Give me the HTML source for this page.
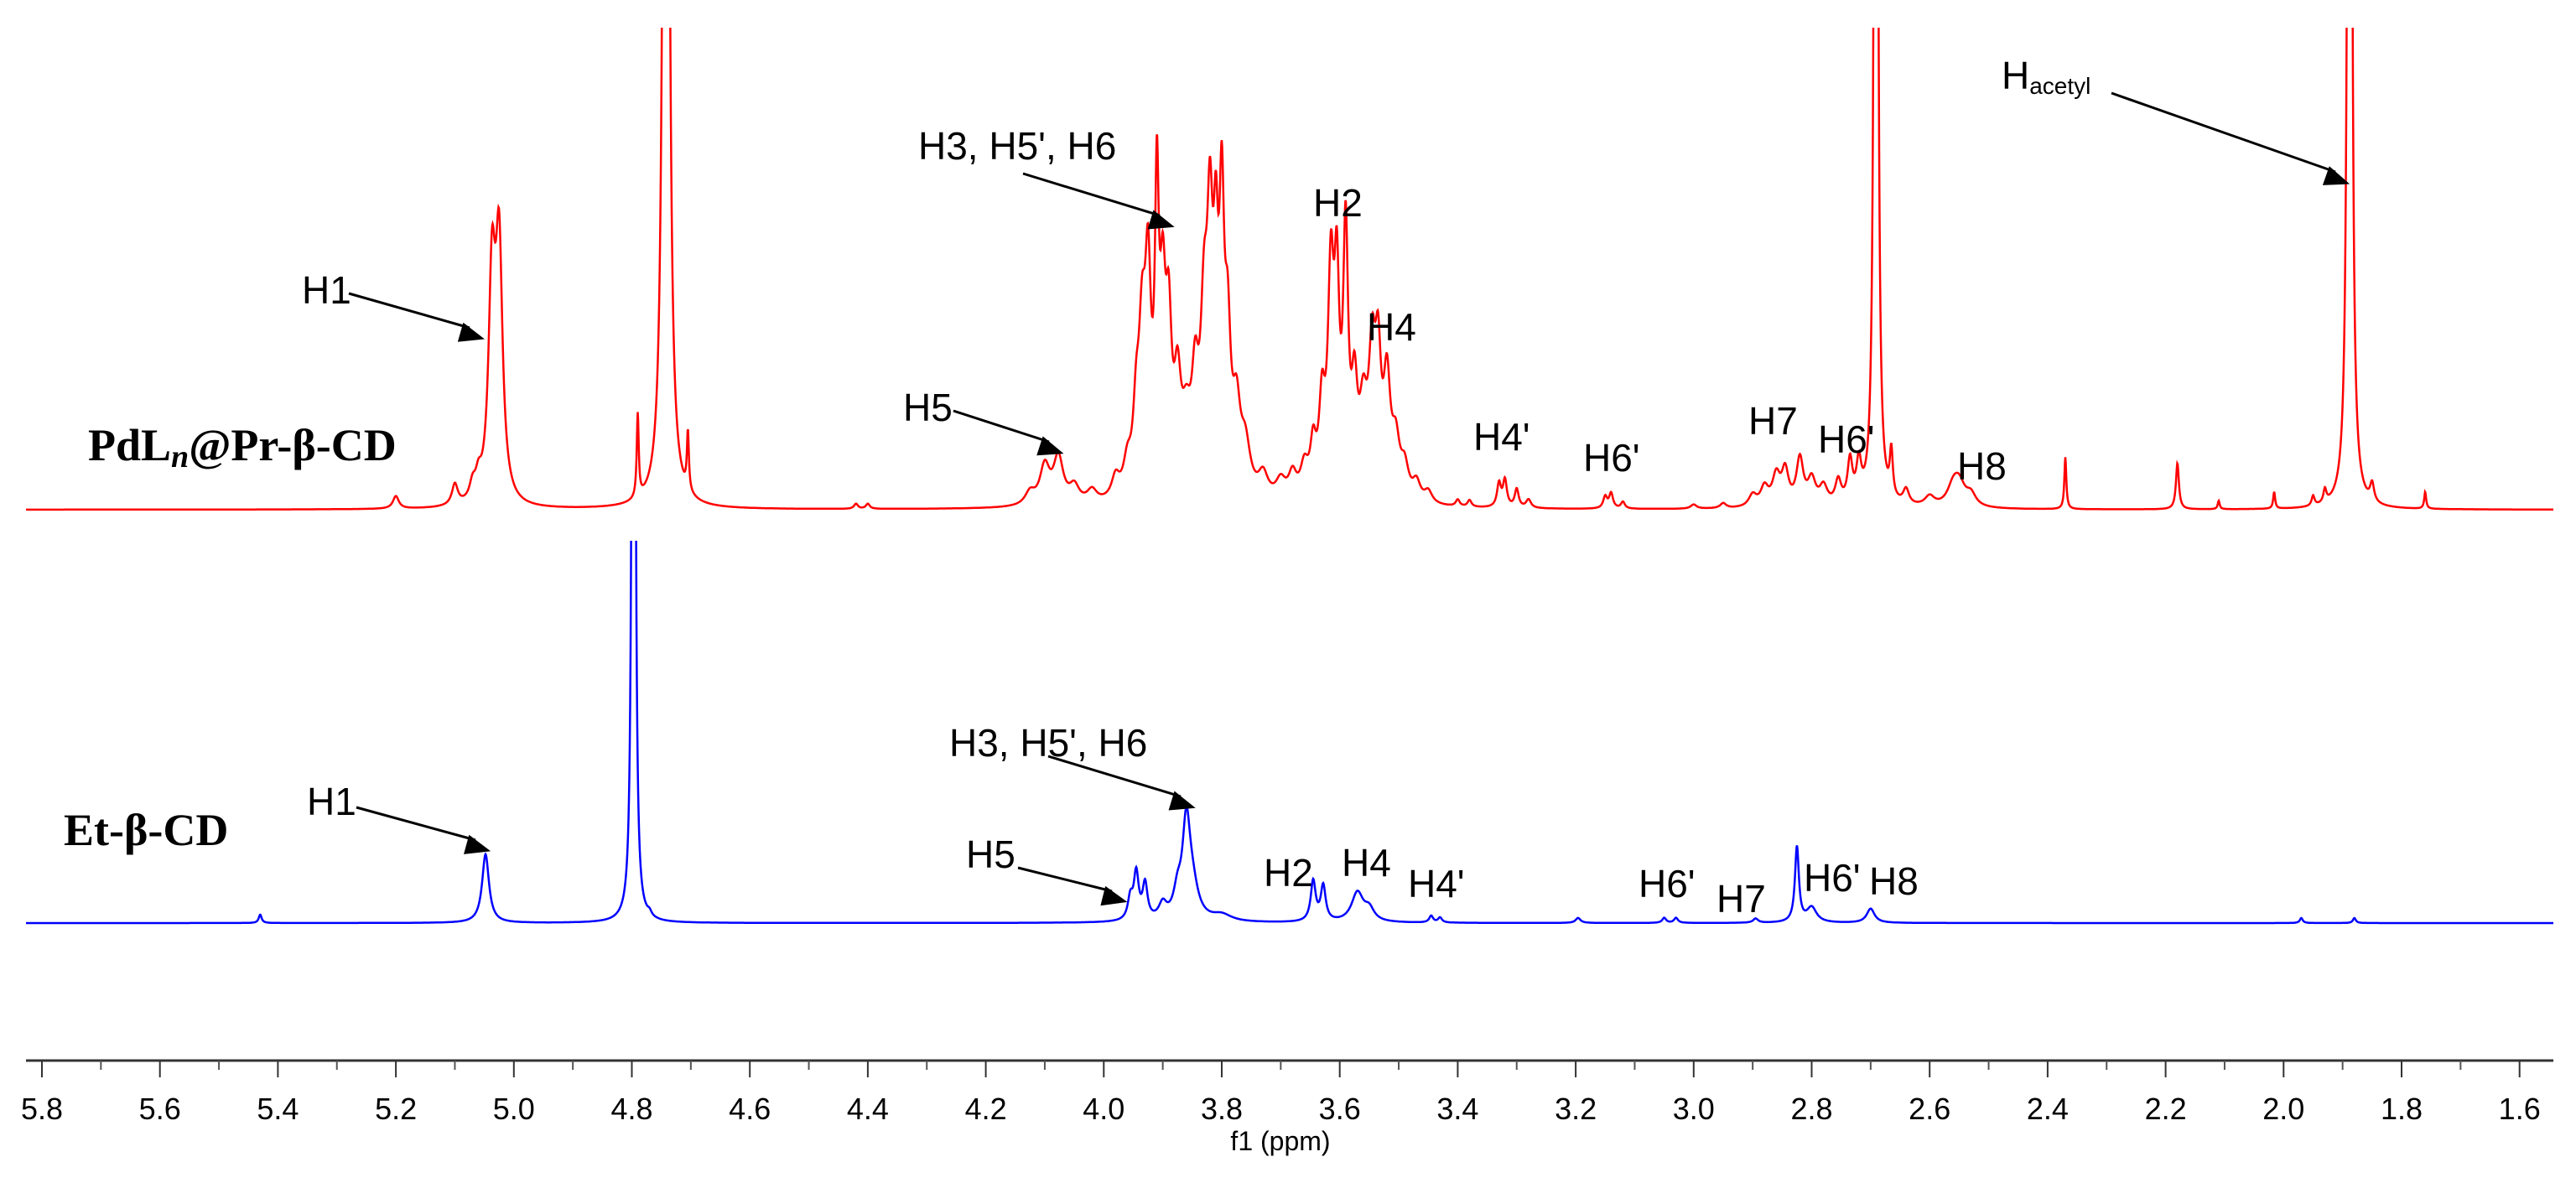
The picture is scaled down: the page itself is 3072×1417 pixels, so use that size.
<!DOCTYPE html>
<html><head><meta charset="utf-8"><style>
html,body{margin:0;padding:0;background:#fff;}
svg{display:block;}
.lbl{font-family:"Liberation Sans",sans-serif;font-size:46px;fill:#000;}
.tick{font-family:"Liberation Sans",sans-serif;font-size:36px;fill:#000;}
.name{font-family:"Liberation Serif",serif;font-size:54px;font-weight:bold;fill:#000;}
</style></head><body>
<svg id="chart" width="3072" height="1417" viewBox="0 0 3072 1417" xmlns="http://www.w3.org/2000/svg">
<defs>
<marker id="ah" markerWidth="10" markerHeight="8" refX="9" refY="4" orient="auto" markerUnits="userSpaceOnUse" viewBox="0 0 10 8" style="overflow:visible">
<path d="M0,0 L10,4 L0,8 Z" fill="#000" transform="scale(3.0)" />
</marker>
<clipPath id="clipTop"><rect x="0" y="33" width="3072" height="1400"/></clipPath>
<clipPath id="clipBlue"><rect x="0" y="645" width="3072" height="800"/></clipPath>
</defs>
<g id="axis"></g>
<text class="tick" x="1527" y="1372" text-anchor="middle" style="font-size:32px">f1 (ppm)</text>
<g id="spectra"></g>

<g stroke="#000" stroke-width="3" fill="none">
<line x1="416" y1="350" x2="560" y2="391" marker-end="url(#ah)"/>
<line x1="1137" y1="490" x2="1251" y2="527" marker-end="url(#ah)"/>
<line x1="1220" y1="207" x2="1383" y2="257" marker-end="url(#ah)"/>
<line x1="2518" y1="111" x2="2785" y2="205" marker-end="url(#ah)"/>
<line x1="425" y1="963" x2="567" y2="1002" marker-end="url(#ah)"/>
<line x1="1250" y1="902" x2="1408" y2="950" marker-end="url(#ah)"/>
<line x1="1214" y1="1035" x2="1326" y2="1063" marker-end="url(#ah)"/>
</g>

<text class="name" x="105" y="549">PdL<tspan font-style="italic" font-size="38" dy="8">n</tspan><tspan dy="-8">@Pr-β-CD</tspan></text>
<text class="name" x="76" y="1008">Et-β-CD</text>

<text class="lbl" x="360" y="362">H1</text>
<text class="lbl" x="1095" y="190">H3, H5', H6</text>
<text class="lbl" x="1077" y="502">H5</text>
<text class="lbl" x="1566" y="258">H2</text>
<text class="lbl" x="1630" y="406">H4</text>
<text class="lbl" x="1757" y="537">H4'</text>
<text class="lbl" x="1888" y="562">H6'</text>
<text class="lbl" x="2085" y="518">H7</text>
<text class="lbl" x="2168" y="540">H6'</text>
<text class="lbl" x="2334" y="572">H8</text>
<text class="lbl" x="2387" y="106">H<tspan font-size="28" dy="6">acetyl</tspan></text>

<text class="lbl" x="366" y="972">H1</text>
<text class="lbl" x="1132" y="902">H3, H5', H6</text>
<text class="lbl" x="1152" y="1035">H5</text>
<text class="lbl" x="1507" y="1057">H2</text>
<text class="lbl" x="1600" y="1045">H4</text>
<text class="lbl" x="1679" y="1070">H4'</text>
<text class="lbl" x="1954" y="1070">H6'</text>
<text class="lbl" x="2047" y="1088">H7</text>
<text class="lbl" x="2151" y="1063">H6'</text>
<text class="lbl" x="2229" y="1067">H8</text>
</svg>
<script>
// Axis ticks (ppm)
const tickValues = [5.8,5.6,5.4,5.2,5.0,4.8,4.6,4.4,4.2,4.0,3.8,3.6,3.4,3.2,3.0,2.8,2.6,2.4,2.2,2.0,1.8,1.6];
const tickLabels = ["5.8","5.6","5.4","5.2","5.0","4.8","4.6","4.4","4.2","4.0","3.8","3.6","3.4","3.2","3.0","2.8","2.6","2.4","2.2","2.0","1.8","1.6"];
// Red spectrum (PdLn@Pr-β-CD): peak positions (ppm), intensities, half-widths (ppm)
const redPpm = [5.20,5.10,5.07,5.06,5.037,5.025,4.79,4.742,4.705,4.42,4.40,
 4.125,4.10,4.077,4.05,4.02,3.98,3.96,3.945,3.935,3.925,3.91,3.90,3.89,3.875,3.86,
 3.845,3.83,3.82,3.81,3.80,3.79,3.775,3.76,3.73,3.70,3.68,3.66,3.645,3.63,3.615,3.605,3.59,3.575,3.56,3.545,3.535,3.52,3.505,3.49,3.47,3.45,
 3.40,3.38,3.33,3.32,3.30,3.28,3.15,3.14,3.12,3.00,2.95,2.90,2.88,2.86,2.845,2.82,2.80,2.78,2.755,2.735,2.72,
 2.691,2.665,2.64,2.60,2.56,2.55,2.53,2.37,2.18,2.11,2.016,1.95,1.93,1.888,1.85,1.76];
const redInt = [15,25,18,22,260,290,100,3000,70,6,6,
 15,45,55,20,15,25,35,80,170,230,320,200,170,110,70,
 110,180,270,220,300,160,90,55,28,22,28,35,55,100,250,220,300,110,90,150,140,130,60,35,22,14,
 8,8,28,32,22,10,14,18,8,5,6,14,22,35,40,55,30,22,28,50,45,
 3000,55,18,12,22,25,14,62,55,10,20,12,16,3000,22,20];
const redWidth = [0.006,0.006,0.006,0.006,0.007,0.007,0.002,0.0035,0.002,0.004,0.004,
 0.01,0.01,0.01,0.01,0.01,0.008,0.008,0.006,0.007,0.006,0.004,0.006,0.006,0.007,0.01,
 0.007,0.007,0.006,0.005,0.005,0.006,0.008,0.01,0.01,0.01,0.008,0.008,0.006,0.006,0.006,0.005,0.005,0.006,0.008,0.007,0.006,0.007,0.008,0.008,0.008,0.008,
 0.004,0.004,0.004,0.004,0.004,0.005,0.004,0.004,0.004,0.006,0.006,0.008,0.008,0.008,0.007,0.007,0.008,0.008,0.006,0.005,0.005,
 0.0022,0.003,0.006,0.01,0.012,0.012,0.01,0.002,0.003,0.002,0.002,0.003,0.003,0.0025,0.004,0.002];
// Blue spectrum (Et-β-CD)
const bluePpm = [5.43,5.048,4.797,4.77,3.955,3.945,3.93,3.90,3.875,3.86,3.85,3.80,3.645,3.628,3.57,3.55,3.445,3.43,3.196,3.05,3.03,2.895,2.825,2.80,2.70,1.97,1.88];
const blueInt = [10,82,3000,5,25,55,42,18,28,110,35,8,48,42,35,14,8,6,6,6,6,5,90,18,17,6,6];
const blueWidth = [0.003,0.007,0.0018,0.004,0.005,0.005,0.005,0.008,0.008,0.008,0.012,0.02,0.005,0.005,0.012,0.01,0.004,0.004,0.005,0.004,0.004,0.005,0.004,0.01,0.008,0.003,0.003];

const NS='http://www.w3.org/2000/svg';
const X0=50, PXPERPPM=703.5, PPM0=5.8;
function xScale(p){return X0+(PPM0-p)*PXPERPPM;}
function ppmAt(x){return PPM0-(x-X0)/PXPERPPM;}
const RED_BASE=608, BLUE_BASE=1101;
function yRed(v){return RED_BASE-v;}
function yBlue(v){return BLUE_BASE-v;}

const axis=document.getElementById('axis');
const al=document.createElementNS(NS,'line');
al.setAttribute('x1',31);al.setAttribute('x2',3045);al.setAttribute('y1',1265);al.setAttribute('y2',1265);
al.setAttribute('stroke','#333');al.setAttribute('stroke-width',3);


axis.appendChild(al);
tickValues.forEach((t,i)=>{
  const x=xScale(t);
  const l=document.createElementNS(NS,'line');
  l.setAttribute('x1',x);l.setAttribute('x2',x);l.setAttribute('y1',1265);l.setAttribute('y2',1285);
  l.setAttribute('stroke','#333');l.setAttribute('stroke-width',2);
  
  
  axis.appendChild(l);
  const tx=document.createElementNS(NS,'text');
  tx.setAttribute('x',x);tx.setAttribute('y',1335);tx.setAttribute('text-anchor','middle');tx.setAttribute('class','tick');
  tx.textContent=tickLabels[i];
  
  
  axis.appendChild(tx);
  if(i<tickValues.length-1){
    const xm=xScale(t-0.1);
    const m=document.createElementNS(NS,'line');
    m.setAttribute('x1',xm);m.setAttribute('x2',xm);m.setAttribute('y1',1265);m.setAttribute('y2',1276);
    m.setAttribute('stroke','#555');m.setAttribute('stroke-width',2);
    
    
    axis.appendChild(m);
  }
});

function spectrumPath(ppm,ints,wids,yf){
  let d='';
  for(let x=31;x<=3045;x+=0.5){
    const p=ppmAt(x);let s=0;
    for(let k=0;k<ppm.length;k++){const u=(p-ppm[k])/wids[k];s+=ints[k]/(1+u*u);}
    d+=(d?'L':'M')+x.toFixed(1)+','+yf(s).toFixed(1);
  }
  return d;
}
const sp=document.getElementById('spectra');
const rp=document.createElementNS(NS,'path');
rp.setAttribute('d',spectrumPath(redPpm,redInt,redWidth,yRed));
rp.setAttribute('fill','none');rp.setAttribute('stroke','#ff0000');rp.setAttribute('stroke-width',2.5);
rp.setAttribute('clip-path','url(#clipTop)');


sp.appendChild(rp);
const bp=document.createElementNS(NS,'path');
bp.setAttribute('d',spectrumPath(bluePpm,blueInt,blueWidth,yBlue));
bp.setAttribute('fill','none');bp.setAttribute('stroke','#0000ff');bp.setAttribute('stroke-width',2.5);
bp.setAttribute('clip-path','url(#clipBlue)');


sp.appendChild(bp);
</script>
</body></html>
